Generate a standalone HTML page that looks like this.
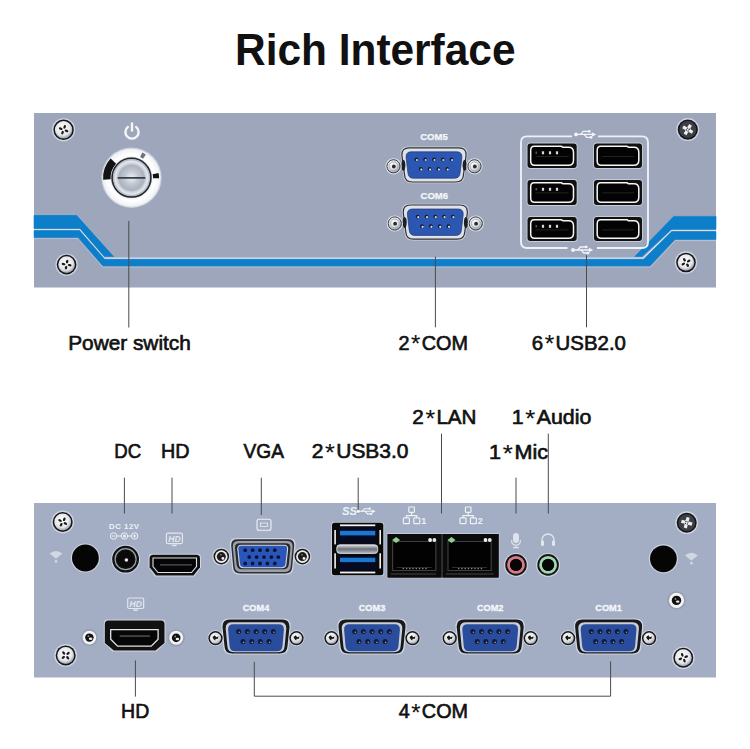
<!DOCTYPE html><html><head><meta charset="utf-8"><title>Rich Interface</title>
<style>html,body{margin:0;padding:0;background:#fff;}body{width:750px;height:749px;overflow:hidden;}svg{display:block;}</style></head><body>
<svg width="750" height="749" viewBox="0 0 750 749">
<defs>
<radialGradient id="gScrewL" cx="0.45" cy="0.4" r="0.6"><stop offset="0" stop-color="#ffffff"/><stop offset="0.7" stop-color="#e4e6ea"/><stop offset="1" stop-color="#9a9ea6"/></radialGradient>
<radialGradient id="gScrewD" cx="0.45" cy="0.4" r="0.6"><stop offset="0" stop-color="#e8e8e8"/><stop offset="0.6" stop-color="#8a8c90"/><stop offset="1" stop-color="#303236"/></radialGradient>
<radialGradient id="gThumb" cx="0.4" cy="0.35" r="0.7"><stop offset="0" stop-color="#ffffff"/><stop offset="0.6" stop-color="#d8dbe0"/><stop offset="1" stop-color="#8d9099"/></radialGradient>
<radialGradient id="gBtn" cx="0.5" cy="0.5" r="0.5"><stop offset="0" stop-color="#c9ced8"/><stop offset="0.7" stop-color="#b8bfcb"/><stop offset="0.9" stop-color="#e6e9ee"/><stop offset="1" stop-color="#a7aebb"/></radialGradient>
<radialGradient id="gRing" cx="0.5" cy="0.5" r="0.5"><stop offset="0.6" stop-color="#e9ecf1"/><stop offset="0.8" stop-color="#ffffff"/><stop offset="1" stop-color="#eef0f4"/></radialGradient>
<radialGradient id="gBtn2" cx="0.5" cy="0.5" r="0.5"><stop offset="0" stop-color="#eef0f4"/><stop offset="0.5" stop-color="#c3c9d3"/><stop offset="1" stop-color="#aab1bd"/></radialGradient>
<linearGradient id="gMid" x1="0" y1="0" x2="0" y2="1"><stop offset="0" stop-color="#dcdee4"/><stop offset="0.5" stop-color="#6c707a"/><stop offset="1" stop-color="#b4b8c2"/></linearGradient>
</defs>
<text x="235" y="64.8" font-family='"Liberation Sans", sans-serif' font-weight="bold" font-size="44.8" fill="#111" textLength="280.5" lengthAdjust="spacingAndGlyphs">Rich Interface</text>
<rect x="34" y="113" width="682" height="174.5" fill="#9da6bb"/>
<polyline points="34,238.6 78.4,238.6 102.6,267 650.6,267 675.3,240.6 716,240.6" fill="none" stroke="#c4cfe0" stroke-width="1" opacity="0.7"/>
<polyline points="34,214.3 76.3,214.3 113.5,255.7" fill="none" stroke="#c4cfe0" stroke-width="1" opacity="0.5"/>
<polygon points="34,215.2 76.6,215.2 113.8,256.6 104.2,256.6 79.8,228.6 34,228.6" fill="#0d7fca" stroke="#0d7fca" stroke-width="0.6" stroke-linejoin="round"/>
<polygon points="716,216.4 673.7,216.4 634.8,256.5 642,256.5 671.7,229.2 716,229.2" fill="#0d7fca" stroke="#0d7fca" stroke-width="0.6" stroke-linejoin="round"/>
<polyline points="34,229.6 79.7,229.6 104.4,258.3 643.3,258.3 671.6,230.6 716,230.6" fill="none" stroke="#d6e0ef" stroke-width="1.4"/>
<polygon points="34,230.5 79.5,230.5 104.7,259.3 643.6,259.3 671.7,231.6 716,231.6 716,239.4 674.9,239.4 650,266 102.9,266 78.1,237.6 34,237.6" fill="#0d7fca" stroke="#0d7fca" stroke-width="0.5" stroke-linejoin="round"/>
<circle cx="63.6" cy="129.8" r="11.6" fill="#d3dae7" opacity="0.85"/><circle cx="63.6" cy="129.8" r="10.2" fill="#161616"/><circle cx="63.6" cy="129.8" r="8.7" fill="url(#gScrewL)"/><g transform="translate(63.6,129.8) rotate(20)" fill="#1a1a1a"><ellipse cx="3.1" cy="0" rx="1.9" ry="1.2" transform="rotate(0)"/><ellipse cx="3.1" cy="0" rx="1.9" ry="1.2" transform="rotate(90)"/><ellipse cx="3.1" cy="0" rx="1.9" ry="1.2" transform="rotate(180)"/><ellipse cx="3.1" cy="0" rx="1.9" ry="1.2" transform="rotate(270)"/></g>
<circle cx="687.8" cy="129.6" r="11.5" fill="#d3dae7" opacity="0.85"/><circle cx="687.8" cy="129.6" r="10.1" fill="#161616"/><circle cx="687.8" cy="129.6" r="8.5" fill="#3c3f45"/><g transform="translate(687.8,129.6) rotate(30)" fill="#eceef2"><path d="M-5.5,-1.6 L-1.6,-1.6 L-1.6,-5.5 L1.6,-5.5 L1.6,-1.6 L5.5,-1.6 L5.5,1.6 L1.6,1.6 L1.6,5.5 L-1.6,5.5 L-1.6,1.6 L-5.5,1.6 Z"/><circle cx="0" cy="0" r="2.6"/></g><g transform="translate(687.8,129.6) rotate(30)" fill="#2a2c30"><circle cx="1.5" cy="0" r="0.7" transform="rotate(45)"/><circle cx="1.5" cy="0" r="0.7" transform="rotate(135)"/><circle cx="1.5" cy="0" r="0.7" transform="rotate(225)"/><circle cx="1.5" cy="0" r="0.7" transform="rotate(315)"/></g>
<circle cx="66.6" cy="264.6" r="11.200000000000001" fill="#d3dae7" opacity="0.85"/><circle cx="66.6" cy="264.6" r="9.8" fill="#161616"/><circle cx="66.6" cy="264.6" r="8.3" fill="url(#gScrewL)"/><g transform="translate(66.6,264.6) rotate(10)" fill="#1a1a1a"><ellipse cx="3.1" cy="0" rx="1.9" ry="1.2" transform="rotate(0)"/><ellipse cx="3.1" cy="0" rx="1.9" ry="1.2" transform="rotate(90)"/><ellipse cx="3.1" cy="0" rx="1.9" ry="1.2" transform="rotate(180)"/><ellipse cx="3.1" cy="0" rx="1.9" ry="1.2" transform="rotate(270)"/></g>
<circle cx="686" cy="262.5" r="11.200000000000001" fill="#d3dae7" opacity="0.85"/><circle cx="686" cy="262.5" r="9.8" fill="#161616"/><circle cx="686" cy="262.5" r="8.3" fill="url(#gScrewL)"/><g transform="translate(686,262.5) rotate(60)" fill="#1a1a1a"><ellipse cx="3.1" cy="0" rx="1.9" ry="1.2" transform="rotate(0)"/><ellipse cx="3.1" cy="0" rx="1.9" ry="1.2" transform="rotate(90)"/><ellipse cx="3.1" cy="0" rx="1.9" ry="1.2" transform="rotate(180)"/><ellipse cx="3.1" cy="0" rx="1.9" ry="1.2" transform="rotate(270)"/></g>
<g fill="none" stroke="#f4f6fa" stroke-width="2.4" stroke-linecap="round"><path d="M127.9,126.9 A6.6,6.6 0 1 0 136.1,126.9"/><line x1="132" y1="123.4" x2="132" y2="130.6"/></g>
<circle cx="131.5" cy="177.7" r="30.2" fill="#c9d0dc"/>
<circle cx="131.5" cy="177.7" r="29" fill="url(#gRing)"/>
<path d="M106.9,179.5 A24.6,24.6 0 0 1 113.4,161.1" fill="none" stroke="#121212" stroke-width="7.5"/>
<path d="M155.6,173.6 A24.6,24.6 0 0 1 156.1,178.2" fill="none" stroke="#121212" stroke-width="6"/>
<path d="M141.2,154.8 A24.6,24.6 0 0 1 144.4,156.7" fill="none" stroke="#6a7080" stroke-width="5"/>
<circle cx="131.5" cy="177.7" r="20.6" fill="#c3c9d4"/>
<circle cx="131.5" cy="177.7" r="19.4" fill="none" stroke="#23252b" stroke-width="1.5"/>
<circle cx="131.5" cy="177.7" r="18.2" fill="url(#gBtn)"/>
<circle cx="131.5" cy="177.7" r="13" fill="url(#gBtn2)"/>
<rect x="117.5" y="176.9" width="28" height="1.9" rx="0.9" fill="#3a3e46"/>
<text x="434" y="140.2" text-anchor="middle" font-family='"Liberation Sans", sans-serif' font-weight="bold" font-size="8.6" fill="#f4f6fa" stroke="#f4f6fa" stroke-width="0.25" textLength="27.6" lengthAdjust="spacingAndGlyphs">COM5</text>
<g transform="translate(434,164.8)"><path d="M-25.799999999999997,-18.2 L25.799999999999997,-18.2 Q33.8,-18.2 33.5,-10.2 L30.7,10.399999999999999 Q30.4,18.4 22.4,18.4 L-22.4,18.4 Q-30.4,18.4 -30.7,10.399999999999999 L-33.5,-10.2 Q-33.8,-18.2 -25.799999999999997,-18.2 Z" fill="#cfd5df"/><path d="M-24.9,-17 L24.9,-17 Q32.4,-17 32.1,-9.5 L29.5,9.7 Q29.2,17.2 21.7,17.2 L-21.7,17.2 Q-29.2,17.2 -29.5,9.7 L-32.1,-9.5 Q-32.4,-17 -24.9,-17 Z" fill="#dfe2e8" stroke="#2e3034" stroke-width="1.2"/><ellipse cx="-30.6" cy="0.5" rx="2" ry="5.5" fill="#1e1f22"/><ellipse cx="30.6" cy="0.5" rx="2" ry="5.5" fill="#1e1f22"/><path d="M-22.7,-13 L22.7,-13 Q28.2,-13 27.9,-7.5 L26.1,7.9 Q25.8,13.4 20.3,13.4 L-20.3,13.4 Q-25.8,13.4 -26.1,7.9 L-27.9,-7.5 Q-28.2,-13 -22.7,-13 Z" fill="#2b57b2" stroke="#22356e" stroke-width="0.7"/><circle cx="-17.6" cy="-5.4" r="1.9" fill="#0f1a40"/><circle cx="-17.1" cy="-4.800000000000001" r="1.1" fill="#d9d2bd"/><circle cx="-8.8" cy="-5.4" r="1.9" fill="#0f1a40"/><circle cx="-8.3" cy="-4.800000000000001" r="1.1" fill="#d9d2bd"/><circle cx="0.0" cy="-5.4" r="1.9" fill="#0f1a40"/><circle cx="0.5" cy="-4.800000000000001" r="1.1" fill="#d9d2bd"/><circle cx="8.8" cy="-5.4" r="1.9" fill="#0f1a40"/><circle cx="9.3" cy="-4.800000000000001" r="1.1" fill="#d9d2bd"/><circle cx="17.6" cy="-5.4" r="1.9" fill="#0f1a40"/><circle cx="18.1" cy="-4.800000000000001" r="1.1" fill="#d9d2bd"/><circle cx="-13.200000000000001" cy="4.2" r="1.9" fill="#0f1a40"/><circle cx="-12.700000000000001" cy="4.8" r="1.1" fill="#e6e0cc"/><circle cx="-4.4" cy="4.2" r="1.9" fill="#0f1a40"/><circle cx="-3.9000000000000004" cy="4.8" r="1.1" fill="#e6e0cc"/><circle cx="4.4" cy="4.2" r="1.9" fill="#0f1a40"/><circle cx="4.9" cy="4.8" r="1.1" fill="#e6e0cc"/><circle cx="13.200000000000001" cy="4.2" r="1.9" fill="#0f1a40"/><circle cx="13.700000000000001" cy="4.8" r="1.1" fill="#e6e0cc"/></g><circle cx="393.5" cy="166.3" r="8.1" fill="#dde2ea"/><circle cx="393.5" cy="166.3" r="6.6" fill="url(#gThumb)" stroke="#3a3c42" stroke-width="1"/><circle cx="393.5" cy="166.3" r="4.3999999999999995" fill="none" stroke="#9aa0aa" stroke-width="0.8"/><circle cx="393.8" cy="166.5" r="1.9" fill="#2a2a2a"/><circle cx="474.5" cy="166.3" r="8.1" fill="#dde2ea"/><circle cx="474.5" cy="166.3" r="6.6" fill="url(#gThumb)" stroke="#3a3c42" stroke-width="1"/><circle cx="474.5" cy="166.3" r="4.3999999999999995" fill="none" stroke="#9aa0aa" stroke-width="0.8"/><circle cx="474.8" cy="166.5" r="1.9" fill="#2a2a2a"/>
<text x="434.3" y="198.8" text-anchor="middle" font-family='"Liberation Sans", sans-serif' font-weight="bold" font-size="8.6" fill="#f4f6fa" stroke="#f4f6fa" stroke-width="0.25" textLength="27.6" lengthAdjust="spacingAndGlyphs">COM6</text>
<g transform="translate(435.3,222)"><path d="M-25.799999999999997,-18.2 L25.799999999999997,-18.2 Q33.8,-18.2 33.5,-10.2 L30.7,10.399999999999999 Q30.4,18.4 22.4,18.4 L-22.4,18.4 Q-30.4,18.4 -30.7,10.399999999999999 L-33.5,-10.2 Q-33.8,-18.2 -25.799999999999997,-18.2 Z" fill="#cfd5df"/><path d="M-24.9,-17 L24.9,-17 Q32.4,-17 32.1,-9.5 L29.5,9.7 Q29.2,17.2 21.7,17.2 L-21.7,17.2 Q-29.2,17.2 -29.5,9.7 L-32.1,-9.5 Q-32.4,-17 -24.9,-17 Z" fill="#dfe2e8" stroke="#2e3034" stroke-width="1.2"/><ellipse cx="-30.6" cy="0.5" rx="2" ry="5.5" fill="#1e1f22"/><ellipse cx="30.6" cy="0.5" rx="2" ry="5.5" fill="#1e1f22"/><path d="M-22.7,-13 L22.7,-13 Q28.2,-13 27.9,-7.5 L26.1,7.9 Q25.8,13.4 20.3,13.4 L-20.3,13.4 Q-25.8,13.4 -26.1,7.9 L-27.9,-7.5 Q-28.2,-13 -22.7,-13 Z" fill="#2b57b2" stroke="#22356e" stroke-width="0.7"/><circle cx="-17.6" cy="-5.4" r="1.9" fill="#0f1a40"/><circle cx="-17.1" cy="-4.800000000000001" r="1.1" fill="#d9d2bd"/><circle cx="-8.8" cy="-5.4" r="1.9" fill="#0f1a40"/><circle cx="-8.3" cy="-4.800000000000001" r="1.1" fill="#d9d2bd"/><circle cx="0.0" cy="-5.4" r="1.9" fill="#0f1a40"/><circle cx="0.5" cy="-4.800000000000001" r="1.1" fill="#d9d2bd"/><circle cx="8.8" cy="-5.4" r="1.9" fill="#0f1a40"/><circle cx="9.3" cy="-4.800000000000001" r="1.1" fill="#d9d2bd"/><circle cx="17.6" cy="-5.4" r="1.9" fill="#0f1a40"/><circle cx="18.1" cy="-4.800000000000001" r="1.1" fill="#d9d2bd"/><circle cx="-13.200000000000001" cy="4.2" r="1.9" fill="#0f1a40"/><circle cx="-12.700000000000001" cy="4.8" r="1.1" fill="#e6e0cc"/><circle cx="-4.4" cy="4.2" r="1.9" fill="#0f1a40"/><circle cx="-3.9000000000000004" cy="4.8" r="1.1" fill="#e6e0cc"/><circle cx="4.4" cy="4.2" r="1.9" fill="#0f1a40"/><circle cx="4.9" cy="4.8" r="1.1" fill="#e6e0cc"/><circle cx="13.200000000000001" cy="4.2" r="1.9" fill="#0f1a40"/><circle cx="13.700000000000001" cy="4.8" r="1.1" fill="#e6e0cc"/></g><circle cx="394.8" cy="223.5" r="8.1" fill="#dde2ea"/><circle cx="394.8" cy="223.5" r="6.6" fill="url(#gThumb)" stroke="#3a3c42" stroke-width="1"/><circle cx="394.8" cy="223.5" r="4.3999999999999995" fill="none" stroke="#9aa0aa" stroke-width="0.8"/><circle cx="395.1" cy="223.7" r="1.9" fill="#2a2a2a"/><circle cx="475.8" cy="223.5" r="8.1" fill="#dde2ea"/><circle cx="475.8" cy="223.5" r="6.6" fill="url(#gThumb)" stroke="#3a3c42" stroke-width="1"/><circle cx="475.8" cy="223.5" r="4.3999999999999995" fill="none" stroke="#9aa0aa" stroke-width="0.8"/><circle cx="476.1" cy="223.7" r="1.9" fill="#2a2a2a"/>
<path d="M572,136.4 H527 Q521,136.4 521,142.4 V242 Q521,248 527,248 H567.5 M597,248 H642 Q648,248 648,242 V142.4 Q648,136.4 642,136.4 H598" fill="none" stroke="#eef1f6" stroke-width="1.9"/>
<g transform="translate(585,134.4) scale(0.86)" stroke="#f2f4f8" fill="#f2f4f8" stroke-width="1.5" stroke-linecap="round"><circle cx="-10.5" cy="0" r="2.2" stroke="none"/><line x1="-10" y1="0" x2="9" y2="0"/><path d="M13,0 L8,-2.6 L8,2.6 Z" stroke="none"/><polyline points="-5,0 -2,-3.5 4,-3.5" fill="none"/><rect x="3.6" y="-5" width="2.8" height="2.8" stroke="none"/><polyline points="-1,0 2,3.5 6,3.5" fill="none"/><circle cx="7" cy="3.5" r="1.6" stroke="none"/></g>
<g transform="translate(582,250) scale(0.86)" stroke="#f2f4f8" fill="#f2f4f8" stroke-width="1.5" stroke-linecap="round"><circle cx="-10.5" cy="0" r="2.2" stroke="none"/><line x1="-10" y1="0" x2="9" y2="0"/><path d="M13,0 L8,-2.6 L8,2.6 Z" stroke="none"/><polyline points="-5,0 -2,-3.5 4,-3.5" fill="none"/><rect x="3.6" y="-5" width="2.8" height="2.8" stroke="none"/><polyline points="-1,0 2,3.5 6,3.5" fill="none"/><circle cx="7" cy="3.5" r="1.6" stroke="none"/></g>
<rect x="526.6" y="142.6" width="51.0" height="26.3" rx="4" fill="#c6cdd8"/><rect x="527.5" y="143.5" width="49.2" height="24.5" rx="3" fill="#111"/><path d="M534.2,146.3 H561.5160000000001 Q563.0160000000001,147.5 564.5160000000001,147.3 H568.5 Q573.5,147.3 573.5,152.3 V160.20000000000002 Q573.5,165.20000000000002 568.5,165.20000000000002 H534.7 Q530.7,165.20000000000002 530.7,161.20000000000002 V150.3 Q530.7,146.3 534.2,146.3 Z" fill="#030303" stroke="#f6f6f6" stroke-width="1.5"/><rect x="535.5" y="151.5" width="1.6" height="2.4" fill="#555"/><rect x="541.9" y="151.3" width="2.2" height="3" fill="#d8d8d8"/><rect x="548.9" y="151.3" width="2.2" height="3" fill="#d8d8d8"/><rect x="555.9" y="151.3" width="2.2" height="3" fill="#d8d8d8"/><rect x="535.5" y="156.0" width="33.2" height="0.8" fill="#2a2a2a"/>
<rect x="593.1" y="142.6" width="49.8" height="26.3" rx="4" fill="#c6cdd8"/><rect x="594" y="143.5" width="48" height="24.5" rx="3" fill="#111"/><path d="M600.7,146.3 H627.152 Q628.652,147.5 630.152,147.3 H633.8000000000001 Q638.8000000000001,147.3 638.8000000000001,152.3 V160.20000000000002 Q638.8000000000001,165.20000000000002 633.8000000000001,165.20000000000002 H601.2 Q597.2,165.20000000000002 597.2,161.20000000000002 V150.3 Q597.2,146.3 600.7,146.3 Z" fill="#030303" stroke="#f6f6f6" stroke-width="1.5"/><rect x="602" y="156.0" width="32" height="0.8" fill="#2a2a2a"/>
<rect x="526.6" y="179.1" width="51.0" height="26.8" rx="4" fill="#c6cdd8"/><rect x="527.5" y="180" width="49.2" height="25" rx="3" fill="#111"/><path d="M534.2,182.8 H561.5160000000001 Q563.0160000000001,184.0 564.5160000000001,183.8 H568.5 Q573.5,183.8 573.5,188.8 V197.20000000000002 Q573.5,202.20000000000002 568.5,202.20000000000002 H534.7 Q530.7,202.20000000000002 530.7,198.20000000000002 V186.8 Q530.7,182.8 534.2,182.8 Z" fill="#030303" stroke="#f6f6f6" stroke-width="1.5"/><rect x="535.5" y="188" width="1.6" height="2.4" fill="#555"/><rect x="541.9" y="187.8" width="2.2" height="3" fill="#d8d8d8"/><rect x="548.9" y="187.8" width="2.2" height="3" fill="#d8d8d8"/><rect x="555.9" y="187.8" width="2.2" height="3" fill="#d8d8d8"/><rect x="535.5" y="192.5" width="33.2" height="0.8" fill="#2a2a2a"/>
<rect x="593.1" y="179.1" width="49.8" height="26.8" rx="4" fill="#c6cdd8"/><rect x="594" y="180" width="48" height="25" rx="3" fill="#111"/><path d="M600.7,182.8 H627.152 Q628.652,184.0 630.152,183.8 H633.8000000000001 Q638.8000000000001,183.8 638.8000000000001,188.8 V197.20000000000002 Q638.8000000000001,202.20000000000002 633.8000000000001,202.20000000000002 H601.2 Q597.2,202.20000000000002 597.2,198.20000000000002 V186.8 Q597.2,182.8 600.7,182.8 Z" fill="#030303" stroke="#f6f6f6" stroke-width="1.5"/><rect x="602" y="192.5" width="32" height="0.8" fill="#2a2a2a"/>
<rect x="526.6" y="216.1" width="51.0" height="25.8" rx="4" fill="#c6cdd8"/><rect x="527.5" y="217" width="49.2" height="24" rx="3" fill="#111"/><path d="M534.2,219.8 H561.5160000000001 Q563.0160000000001,221.0 564.5160000000001,220.8 H568.5 Q573.5,220.8 573.5,225.8 V233.20000000000002 Q573.5,238.20000000000002 568.5,238.20000000000002 H534.7 Q530.7,238.20000000000002 530.7,234.20000000000002 V223.8 Q530.7,219.8 534.2,219.8 Z" fill="#030303" stroke="#f6f6f6" stroke-width="1.5"/><rect x="535.5" y="225" width="1.6" height="2.4" fill="#555"/><rect x="541.9" y="224.8" width="2.2" height="3" fill="#d8d8d8"/><rect x="548.9" y="224.8" width="2.2" height="3" fill="#d8d8d8"/><rect x="555.9" y="224.8" width="2.2" height="3" fill="#d8d8d8"/><rect x="535.5" y="229.5" width="33.2" height="0.8" fill="#2a2a2a"/>
<rect x="593.1" y="216.1" width="49.8" height="25.8" rx="4" fill="#c6cdd8"/><rect x="594" y="217" width="48" height="24" rx="3" fill="#111"/><path d="M600.7,219.8 H627.152 Q628.652,221.0 630.152,220.8 H633.8000000000001 Q638.8000000000001,220.8 638.8000000000001,225.8 V233.20000000000002 Q638.8000000000001,238.20000000000002 633.8000000000001,238.20000000000002 H601.2 Q597.2,238.20000000000002 597.2,234.20000000000002 V223.8 Q597.2,219.8 600.7,219.8 Z" fill="#030303" stroke="#f6f6f6" stroke-width="1.5"/><rect x="602" y="229.5" width="32" height="0.8" fill="#2a2a2a"/>
<line x1="128.8" y1="221" x2="128.8" y2="327.5" stroke="#4a4a4a" stroke-width="1"/>
<line x1="435.4" y1="256.7" x2="435.4" y2="327.3" stroke="#4a4a4a" stroke-width="1"/>
<line x1="586.5" y1="255.3" x2="586.5" y2="327.3" stroke="#4a4a4a" stroke-width="1"/>
<text x="68.2" y="349.9" font-family='"Liberation Sans", sans-serif' font-size="20.2" fill="#111" stroke="#111" stroke-width="0.65" textLength="122.6" lengthAdjust="spacingAndGlyphs">Power switch</text>
<text x="398.5" y="349.6" font-family='"Liberation Sans", sans-serif' font-size="20.2" fill="#111" stroke="#111" stroke-width="0.65" textLength="69.39999999999999" lengthAdjust="spacingAndGlyphs">2<tspan dx="1.6" dy="2.7" font-size="24.2" stroke-width="0.15">*</tspan><tspan dx="1.4" dy="-2.7">COM</tspan></text>
<text x="531.7" y="349.6" font-family='"Liberation Sans", sans-serif' font-size="20.2" fill="#111" stroke="#111" stroke-width="0.65" textLength="94.19999999999999" lengthAdjust="spacingAndGlyphs">6<tspan dx="1.6" dy="2.7" font-size="24.2" stroke-width="0.15">*</tspan><tspan dx="1.4" dy="-2.7">USB2.0</tspan></text>
<rect x="34" y="503" width="682" height="174.5" fill="#a3aec4"/>
<text x="114.3" y="458" font-family='"Liberation Sans", sans-serif' font-size="20.2" fill="#111" stroke="#111" stroke-width="0.65" textLength="26.900000000000002" lengthAdjust="spacingAndGlyphs">DC</text>
<text x="161.0" y="458" font-family='"Liberation Sans", sans-serif' font-size="20.2" fill="#111" stroke="#111" stroke-width="0.65" textLength="28.6" lengthAdjust="spacingAndGlyphs">HD</text>
<text x="243.5" y="458" font-family='"Liberation Sans", sans-serif' font-size="20.2" fill="#111" stroke="#111" stroke-width="0.65" textLength="40.4" lengthAdjust="spacingAndGlyphs">VGA</text>
<text x="311.7" y="458" font-family='"Liberation Sans", sans-serif' font-size="20.2" fill="#111" stroke="#111" stroke-width="0.65" textLength="96.8" lengthAdjust="spacingAndGlyphs">2<tspan dx="1.6" dy="2.7" font-size="24.2" stroke-width="0.15">*</tspan><tspan dx="1.4" dy="-2.7">USB3.0</tspan></text>
<text x="412.3" y="423.8" font-family='"Liberation Sans", sans-serif' font-size="20.2" fill="#111" stroke="#111" stroke-width="0.65" textLength="64.2" lengthAdjust="spacingAndGlyphs">2<tspan dx="1.6" dy="2.7" font-size="24.2" stroke-width="0.15">*</tspan><tspan dx="1.4" dy="-2.7">LAN</tspan></text>
<text x="511.7" y="423.8" font-family='"Liberation Sans", sans-serif' font-size="20.2" fill="#111" stroke="#111" stroke-width="0.65" textLength="79.6" lengthAdjust="spacingAndGlyphs">1<tspan dx="1.6" dy="2.7" font-size="24.2" stroke-width="0.15">*</tspan><tspan dx="1.4" dy="-2.7">Audio</tspan></text>
<text x="489.09999999999997" y="459" font-family='"Liberation Sans", sans-serif' font-size="20.2" fill="#111" stroke="#111" stroke-width="0.65" textLength="58.9" lengthAdjust="spacingAndGlyphs">1<tspan dx="1.6" dy="2.7" font-size="24.2" stroke-width="0.15">*</tspan><tspan dx="1.4" dy="-2.7">Mic</tspan></text>
<line x1="124.4" y1="477.7" x2="124.4" y2="513.5" stroke="#4a4a4a" stroke-width="1"/>
<line x1="172" y1="477.7" x2="172" y2="513.5" stroke="#4a4a4a" stroke-width="1"/>
<line x1="358.2" y1="477.7" x2="358.2" y2="513.5" stroke="#4a4a4a" stroke-width="1"/>
<line x1="516" y1="477.7" x2="516" y2="513.5" stroke="#4a4a4a" stroke-width="1"/>
<line x1="261.3" y1="477.7" x2="261.3" y2="515" stroke="#4a4a4a" stroke-width="1"/>
<line x1="441.5" y1="433.7" x2="441.5" y2="513.5" stroke="#4a4a4a" stroke-width="1"/>
<line x1="548.3" y1="433.7" x2="548.3" y2="513.5" stroke="#4a4a4a" stroke-width="1"/>
<circle cx="62.7" cy="522" r="11.4" fill="#d3dae7" opacity="0.85"/><circle cx="62.7" cy="522" r="10" fill="#161616"/><circle cx="62.7" cy="522" r="8.5" fill="url(#gScrewL)"/><g transform="translate(62.7,522) rotate(30)" fill="#1a1a1a"><ellipse cx="3.1" cy="0" rx="1.9" ry="1.2" transform="rotate(0)"/><ellipse cx="3.1" cy="0" rx="1.9" ry="1.2" transform="rotate(90)"/><ellipse cx="3.1" cy="0" rx="1.9" ry="1.2" transform="rotate(180)"/><ellipse cx="3.1" cy="0" rx="1.9" ry="1.2" transform="rotate(270)"/></g>
<circle cx="65.7" cy="655.4" r="11.4" fill="#d3dae7" opacity="0.85"/><circle cx="65.7" cy="655.4" r="10" fill="#161616"/><circle cx="65.7" cy="655.4" r="8.5" fill="url(#gScrewL)"/><g transform="translate(65.7,655.4) rotate(50)" fill="#1a1a1a"><ellipse cx="3.1" cy="0" rx="1.9" ry="1.2" transform="rotate(0)"/><ellipse cx="3.1" cy="0" rx="1.9" ry="1.2" transform="rotate(90)"/><ellipse cx="3.1" cy="0" rx="1.9" ry="1.2" transform="rotate(180)"/><ellipse cx="3.1" cy="0" rx="1.9" ry="1.2" transform="rotate(270)"/></g>
<circle cx="686.7" cy="522.7" r="11.4" fill="#d3dae7" opacity="0.85"/><circle cx="686.7" cy="522.7" r="10" fill="#161616"/><circle cx="686.7" cy="522.7" r="8.4" fill="#3c3f45"/><g transform="translate(686.7,522.7) rotate(15)" fill="#eceef2"><path d="M-5.5,-1.6 L-1.6,-1.6 L-1.6,-5.5 L1.6,-5.5 L1.6,-1.6 L5.5,-1.6 L5.5,1.6 L1.6,1.6 L1.6,5.5 L-1.6,5.5 L-1.6,1.6 L-5.5,1.6 Z"/><circle cx="0" cy="0" r="2.6"/></g><g transform="translate(686.7,522.7) rotate(15)" fill="#2a2c30"><circle cx="1.5" cy="0" r="0.7" transform="rotate(45)"/><circle cx="1.5" cy="0" r="0.7" transform="rotate(135)"/><circle cx="1.5" cy="0" r="0.7" transform="rotate(225)"/><circle cx="1.5" cy="0" r="0.7" transform="rotate(315)"/></g>
<circle cx="683.3" cy="657.8" r="11.4" fill="#d3dae7" opacity="0.85"/><circle cx="683.3" cy="657.8" r="10" fill="#161616"/><circle cx="683.3" cy="657.8" r="8.5" fill="url(#gScrewL)"/><g transform="translate(683.3,657.8) rotate(70)" fill="#1a1a1a"><ellipse cx="3.1" cy="0" rx="1.9" ry="1.2" transform="rotate(0)"/><ellipse cx="3.1" cy="0" rx="1.9" ry="1.2" transform="rotate(90)"/><ellipse cx="3.1" cy="0" rx="1.9" ry="1.2" transform="rotate(180)"/><ellipse cx="3.1" cy="0" rx="1.9" ry="1.2" transform="rotate(270)"/></g>
<circle cx="85.4" cy="558" r="14.6" fill="#cdd4e0"/><circle cx="85.4" cy="558" r="13.4" fill="#050505"/>
<circle cx="663.4" cy="558.8" r="14.6" fill="#cdd4e0"/><circle cx="663.4" cy="558.8" r="13.4" fill="#050505"/>
<g fill="#eef2f8" opacity="0.6"><path d="M49.5,553.6 Q56,548.2 62.5,553.6 L56,558.8000000000001 Z"/><circle cx="56" cy="561.4000000000001" r="1.4"/></g>
<g fill="#eef2f8" opacity="0.6"><path d="M684.9,555.4 Q691.4,550 697.9,555.4 L691.4,560.6 Z"/><circle cx="691.4" cy="563.2" r="1.4"/></g>
<text x="124" y="529.4" text-anchor="middle" font-family='"Liberation Sans", sans-serif' font-weight="bold" font-size="7.8" fill="#eef1f6" textLength="30" lengthAdjust="spacing">DC 12V</text>
<g fill="none" stroke="#eef1f6" stroke-width="1"><circle cx="113.6" cy="536" r="3.2"/><circle cx="124.4" cy="536" r="3.2"/><circle cx="134.6" cy="536" r="3.2"/><path d="M116.8,536 H121.2 M127.6,536 H131.4 M112,536 H115.2 M133,536 H136.2 M134.6,534.4 V537.6"/></g><circle cx="124.4" cy="536" r="1.5" fill="#eef1f6"/>
<circle cx="125.6" cy="559.2" r="14.4" fill="#cfd6e2"/><circle cx="125.6" cy="559.2" r="13.4" fill="#111"/><circle cx="125.6" cy="559.2" r="10.5" fill="none" stroke="#9aa0aa" stroke-width="1.2"/><circle cx="125.6" cy="559.2" r="8.5" fill="#0a0a0a"/><circle cx="126.4" cy="560" r="1.8" fill="#eaeaea"/>
<path d="M152.6,553.8 H197.0 Q201.0,553.8 201.0,557.8 V567.1999999999999 L194.6,576.5999999999999 H155.0 L148.6,567.1999999999999 V557.8 Q148.6,553.8 152.6,553.8 Z" fill="#d2d8e2"/><path d="M153.1,554.8 H196.5 Q200.0,554.8 200.0,558.3 V567.1999999999999 L193.6,575.5999999999999 H156.0 L149.6,567.1999999999999 V558.3 Q149.6,554.8 153.1,554.8 Z" fill="#111"/>
<path d="M153,558 H196.5 V566.5 L191.5,572.5 H158 L153,566.5 Z" fill="#050505" stroke="#dedfe2" stroke-width="1.1"/>
<rect x="160" y="564.3" width="32" height="1.2" fill="#55575c"/>
<g transform="translate(174.4,539.2) scale(1.0)" opacity="0.85"><rect x="-8" y="-6" width="16" height="10.5" rx="1.5" fill="none" stroke="#eef1f6" stroke-width="1.2"/><text x="0" y="2.8" text-anchor="middle" font-family='"Liberation Sans", sans-serif' font-weight="bold" font-style="italic" font-size="8.5" fill="#eef1f6">HD</text><path d="M-3,5.5 H3 L1.5,7 H-1.5 Z" fill="#eef1f6"/></g>
<g transform="translate(262.7,556.5)"><path d="M-26.200000000000003,-18.4 L26.200000000000003,-18.4 Q33.2,-18.4 32.900000000000006,-11.399999999999999 L30.7,11.2 Q30.4,18.2 23.4,18.2 L-23.4,18.2 Q-30.4,18.2 -30.7,11.2 L-32.900000000000006,-11.399999999999999 Q-33.2,-18.4 -26.200000000000003,-18.4 Z" fill="#cdd4df"/><path d="M-25.3,-17.2 L25.3,-17.2 Q31.8,-17.2 31.5,-10.7 L29.5,10.5 Q29.2,17 22.7,17 L-22.7,17 Q-29.2,17 -29.5,10.5 L-31.5,-10.7 Q-31.8,-17.2 -25.3,-17.2 Z" fill="#2c2e33"/><path d="M-24.2,-15.6 L24.2,-15.6 Q30.2,-15.6 29.9,-9.6 L28.1,9.4 Q27.8,15.4 21.8,15.4 L-21.8,15.4 Q-27.8,15.4 -28.1,9.4 L-29.9,-9.6 Q-30.2,-15.6 -24.2,-15.6 Z" fill="#9a9fa8"/><path d="M-23,-13.2 L23,-13.2 Q28,-13.2 27.7,-8.2 L26.1,7.800000000000001 Q25.8,12.8 20.8,12.8 L-20.8,12.8 Q-25.8,12.8 -26.1,7.800000000000001 L-27.7,-8.2 Q-28,-13.2 -23,-13.2 Z" fill="#26282d"/><path d="M-21.4,-11.2 L21.4,-11.2 Q25.2,-11.2 24.9,-7.3999999999999995 L23.3,7.3999999999999995 Q23,11.2 19.2,11.2 L-19.2,11.2 Q-23,11.2 -23.3,7.3999999999999995 L-24.9,-7.3999999999999995 Q-25.2,-11.2 -21.4,-11.2 Z" fill="#2a56b9" stroke="#d5d9e2" stroke-width="1.1"/><circle cx="-17.5" cy="-6.3" r="1.9" fill="#0b1436"/><circle cx="-10.1" cy="-6.3" r="1.9" fill="#0b1436"/><circle cx="-2.7" cy="-6.3" r="1.9" fill="#0b1436"/><circle cx="4.7" cy="-6.3" r="1.9" fill="#0b1436"/><circle cx="12.1" cy="-6.3" r="1.9" fill="#0b1436"/><circle cx="-13.5" cy="0.6" r="1.9" fill="#0b1436"/><circle cx="-6.1" cy="0.6" r="1.9" fill="#0b1436"/><circle cx="1.3" cy="0.6" r="1.9" fill="#0b1436"/><circle cx="8.7" cy="0.6" r="1.9" fill="#0b1436"/><circle cx="15.6" cy="0.6" r="1.9" fill="#0b1436"/><circle cx="-17.5" cy="7" r="1.9" fill="#0b1436"/><circle cx="-10.1" cy="7" r="1.9" fill="#0b1436"/><circle cx="-2.7" cy="7" r="1.9" fill="#0b1436"/><circle cx="4.7" cy="7" r="1.9" fill="#0b1436"/><circle cx="12.1" cy="7" r="1.9" fill="#0b1436"/></g><circle cx="221.3" cy="556.6" r="9.0" fill="#d2d8e2"/><circle cx="221.3" cy="556.6" r="7.8" fill="#1a1a1a"/><circle cx="221.3" cy="556.6" r="6.3" fill="#e9ebef"/><circle cx="221.3" cy="556.6" r="4.5" fill="#1c1c1c"/><circle cx="222.9" cy="558.4" r="1.4" fill="#f4f4f4"/><circle cx="220.9" cy="554.8000000000001" r="0.8" fill="#9a9a9a"/><circle cx="302.4" cy="556.6" r="9.0" fill="#d2d8e2"/><circle cx="302.4" cy="556.6" r="7.8" fill="#1a1a1a"/><circle cx="302.4" cy="556.6" r="6.3" fill="#e9ebef"/><circle cx="302.4" cy="556.6" r="4.5" fill="#1c1c1c"/><circle cx="304.0" cy="558.4" r="1.4" fill="#f4f4f4"/><circle cx="302.0" cy="554.8000000000001" r="0.8" fill="#9a9a9a"/>
<rect x="257" y="519.2" width="14" height="11" rx="2" fill="none" stroke="#eef1f6" stroke-width="1.1"/><rect x="260.5" y="523" width="7" height="3.5" fill="none" stroke="#eef1f6" stroke-width="0.8"/>
<rect x="331.2" y="522" width="53" height="54" rx="3" fill="#c9d0dc"/>
<rect x="332" y="522.8" width="51.3" height="52.5" rx="2.5" fill="#0a0a0a"/>
<g fill="#f2f2f2"><rect x="340" y="524.4" width="35.3" height="1.8"/><rect x="340" y="571.6" width="35.3" height="1.8"/><rect x="334.3" y="530" width="1.6" height="14.4"/><rect x="334.3" y="553.3" width="1.6" height="15.2"/><rect x="379.4" y="530" width="1.6" height="14.4"/><rect x="379.4" y="553.3" width="1.6" height="15.2"/></g>
<rect x="339" y="527" width="37" height="16" fill="#050a22"/><rect x="339" y="555.5" width="37" height="15" fill="#050a22"/>
<rect x="340" y="530.8" width="35.3" height="4.6" fill="#1a78d0"/><rect x="340" y="557.7" width="35.3" height="4.4" fill="#1a78d0"/>
<rect x="336.8" y="544.8" width="40.9" height="8.6" rx="3" fill="url(#gMid)" stroke="#f0f0f0" stroke-width="0.8"/>
<text x="342" y="515.2" font-family='"Liberation Sans", sans-serif' font-weight="bold" font-style="italic" font-size="10.5" fill="#eef1f6" textLength="15" lengthAdjust="spacingAndGlyphs">SS</text>
<g transform="translate(366,511.3) scale(0.74)" stroke="#f2f4f8" fill="#f2f4f8" stroke-width="1.5" stroke-linecap="round"><circle cx="-10.5" cy="0" r="2.2" stroke="none"/><line x1="-10" y1="0" x2="9" y2="0"/><path d="M13,0 L8,-2.6 L8,2.6 Z" stroke="none"/><polyline points="-5,0 -2,-3.5 4,-3.5" fill="none"/><rect x="3.6" y="-5" width="2.8" height="2.8" stroke="none"/><polyline points="-1,0 2,3.5 6,3.5" fill="none"/><circle cx="7" cy="3.5" r="1.6" stroke="none"/></g>
<rect x="386.8" y="533.2" width="112.6" height="45" fill="#c9d0dc"/><rect x="387.6" y="534" width="111" height="43.5" fill="#0b0b0b"/>
<rect x="387.6" y="534" width="53.5" height="43.5" fill="#0b0b0b"/><path d="M392.6,541.5 H435.8 V570.5 H392.6 Z" fill="#020202" stroke="#3d3d40" stroke-width="1.2"/><path d="M396.6,567.5 H431.6" stroke="#2e2e30" stroke-width="1"/><rect x="390.6" y="573.5" width="45.5" height="1" fill="#444"/><path d="M392.1,540 L396.1,537 L400.1,540 L396.1,543 Z" fill="#8fd08f"/><circle cx="430.1" cy="540" r="1.9" fill="#f2f2f2"/><circle cx="434.40000000000003" cy="540" r="1.9" fill="#e6e6e6"/><rect x="402.6" y="568" width="1.4" height="1.2" fill="#8a8a8a"/><rect x="405.85" y="568" width="1.4" height="1.2" fill="#8a8a8a"/><rect x="409.1" y="568" width="1.4" height="1.2" fill="#8a8a8a"/><rect x="412.35" y="568" width="1.4" height="1.2" fill="#8a8a8a"/><rect x="415.6" y="568" width="1.4" height="1.2" fill="#8a8a8a"/><rect x="418.85" y="568" width="1.4" height="1.2" fill="#8a8a8a"/><rect x="422.1" y="568" width="1.4" height="1.2" fill="#8a8a8a"/><rect x="425.35" y="568" width="1.4" height="1.2" fill="#8a8a8a"/>
<rect x="443" y="534" width="55.6" height="43.5" fill="#0b0b0b"/><path d="M448,541.5 H491.2 V570.5 H448 Z" fill="#020202" stroke="#3d3d40" stroke-width="1.2"/><path d="M452,567.5 H487" stroke="#2e2e30" stroke-width="1"/><rect x="446" y="573.5" width="47.6" height="1" fill="#444"/><path d="M447.5,540 L451.5,537 L455.5,540 L451.5,543 Z" fill="#8fd08f"/><circle cx="485.5" cy="540" r="1.9" fill="#f2f2f2"/><circle cx="489.8" cy="540" r="1.9" fill="#e6e6e6"/><rect x="458.0" y="568" width="1.4" height="1.2" fill="#8a8a8a"/><rect x="461.25" y="568" width="1.4" height="1.2" fill="#8a8a8a"/><rect x="464.5" y="568" width="1.4" height="1.2" fill="#8a8a8a"/><rect x="467.75" y="568" width="1.4" height="1.2" fill="#8a8a8a"/><rect x="471.0" y="568" width="1.4" height="1.2" fill="#8a8a8a"/><rect x="474.25" y="568" width="1.4" height="1.2" fill="#8a8a8a"/><rect x="477.5" y="568" width="1.4" height="1.2" fill="#8a8a8a"/><rect x="480.75" y="568" width="1.4" height="1.2" fill="#8a8a8a"/>
<rect x="441.6" y="534" width="0.9" height="43.5" fill="#55585e"/>
<g fill="none" stroke="#eef1f6" stroke-width="1.2"><rect x="408.8" y="507" width="5.6" height="5.4" rx="0.8"/><path d="M411.6,512.4 V515.6 M406.40000000000003,517.8 V515.6 H416.8 V517.8"/><rect x="403.40000000000003" y="517.8" width="6" height="5.8" rx="0.9"/><rect x="413.8" y="517.8" width="6" height="5.8" rx="0.9"/></g><text x="421.20000000000005" y="523.7" font-family='"Liberation Sans", sans-serif' font-weight="bold" font-size="9" fill="#eef1f6">1</text>
<g fill="none" stroke="#eef1f6" stroke-width="1.2"><rect x="465.4" y="507" width="5.6" height="5.4" rx="0.8"/><path d="M468.2,512.4 V515.6 M463.0,517.8 V515.6 H473.4 V517.8"/><rect x="460.0" y="517.8" width="6" height="5.8" rx="0.9"/><rect x="470.4" y="517.8" width="6" height="5.8" rx="0.9"/></g><text x="477.8" y="523.7" font-family='"Liberation Sans", sans-serif' font-weight="bold" font-size="9" fill="#eef1f6">2</text>
<circle cx="516" cy="564.9" r="12" fill="#ccd3df"/><circle cx="516" cy="564.9" r="10.8" fill="#151515"/><circle cx="516" cy="564.9" r="7.5" fill="none" stroke="#d97a8c" stroke-width="2.8"/><circle cx="516" cy="564.9" r="6" fill="#060606"/>
<circle cx="548.1" cy="564.9" r="12" fill="#ccd3df"/><circle cx="548.1" cy="564.9" r="10.8" fill="#151515"/><circle cx="548.1" cy="564.9" r="7.5" fill="none" stroke="#9fd8b2" stroke-width="2.8"/><circle cx="548.1" cy="564.9" r="6" fill="#060606"/>
<g fill="none" stroke="#eef1f6" stroke-width="1.1" opacity="0.8"><rect x="513.6" y="533.5" width="4.8" height="9" rx="2.4" fill="#eef1f6"/><path d="M511.5,540 Q511.5,545.2 516,545.2 Q520.5,545.2 520.5,540 M516,545.2 V547.5 M513,547.6 H519"/></g>
<g opacity="0.85"><g fill="none" stroke="#eef1f6" stroke-width="1.3"><path d="M542,543 V540 A6,6 0 0 1 554,540 V543"/></g><rect x="541" y="540.5" width="3" height="5.5" rx="1.2" fill="#eef1f6"/><rect x="552" y="540.5" width="3" height="5.5" rx="1.2" fill="#eef1f6"/></g>
<path d="M107.8,619.6 H161.5 Q165.5,619.6 165.5,623.6 V643.0 L156.5,651.5 H112.8 L103.8,643.0 V623.6 Q103.8,619.6 107.8,619.6 Z" fill="#d2d8e2"/><path d="M108.3,620.6 H161.0 Q164.5,620.6 164.5,624.1 V643.0 L155.5,650.5 H113.8 L104.8,643.0 V624.1 Q104.8,620.6 108.3,620.6 Z" fill="#111"/>
<path d="M110.7,629.7 H158.1 V639.3 L151.2,646.2 H117.6 L110.7,639.3 Z" fill="#060606" stroke="#e4e4e4" stroke-width="1.3"/>
<rect x="119.7" y="635.4" width="30.3" height="1.3" fill="#5a5c60"/>
<g transform="translate(135.7,604) scale(1.0)" opacity="0.85"><rect x="-8" y="-6" width="16" height="10.5" rx="1.5" fill="none" stroke="#eef1f6" stroke-width="1.2"/><text x="0" y="2.8" text-anchor="middle" font-family='"Liberation Sans", sans-serif' font-weight="bold" font-style="italic" font-size="8.5" fill="#eef1f6">HD</text><path d="M-3,5.5 H3 L1.5,7 H-1.5 Z" fill="#eef1f6"/></g>
<circle cx="89.4" cy="637.6" r="8.4" fill="#8e96a6" opacity="0.7"/><circle cx="89.4" cy="637.6" r="6.8" fill="#f2f3f6"/><circle cx="89.4" cy="637.6" r="4.216" fill="#111"/><ellipse cx="90.60000000000001" cy="638.8000000000001" rx="1.8" ry="1.2" fill="#eee"/><circle cx="88.4" cy="636.2" r="0.9" fill="#888"/>
<circle cx="176.2" cy="637.8" r="8.6" fill="#8e96a6" opacity="0.7"/><circle cx="176.2" cy="637.8" r="7" fill="#f2f3f6"/><circle cx="176.2" cy="637.8" r="4.34" fill="#111"/><ellipse cx="177.39999999999998" cy="639.0" rx="1.8" ry="1.2" fill="#eee"/><circle cx="175.2" cy="636.4" r="0.9" fill="#888"/>
<circle cx="676.5" cy="600.4" r="9.2" fill="#8e96a6" opacity="0.7"/><circle cx="676.5" cy="600.4" r="7.6" fill="#f2f3f6"/><circle cx="676.5" cy="600.4" r="4.712" fill="#111"/><ellipse cx="677.7" cy="601.6" rx="1.8" ry="1.2" fill="#eee"/><circle cx="675.5" cy="599.0" r="0.9" fill="#888"/>
<text x="256" y="611.4" text-anchor="middle" font-family='"Liberation Sans", sans-serif' font-weight="bold" font-size="8.6" fill="#f4f6fa" stroke="#f4f6fa" stroke-width="0.3" textLength="26.6" lengthAdjust="spacingAndGlyphs">COM4</text>
<g transform="translate(256,636.4)"><path d="M-27,-17.8 L27,-17.8 Q35,-17.8 34.7,-9.8 L32.8,10.2 Q32.5,18.2 24.5,18.2 L-24.5,18.2 Q-32.5,18.2 -32.8,10.2 L-34.7,-9.8 Q-35,-17.8 -27,-17.8 Z" fill="#cfd6e1"/><path d="M-26.299999999999997,-16.8 L26.299999999999997,-16.8 Q33.8,-16.8 33.5,-9.3 L31.5,9.7 Q31.2,17.2 23.7,17.2 L-23.7,17.2 Q-31.2,17.2 -31.5,9.7 L-33.5,-9.3 Q-33.8,-16.8 -26.299999999999997,-16.8 Z" fill="#18191c"/><path d="M-24.1,-14.2 L24.1,-14.2 Q30.6,-14.2 30.3,-7.699999999999999 L28.7,9.3 Q28.4,15.8 21.9,15.8 L-21.9,15.8 Q-28.4,15.8 -28.7,9.3 L-30.3,-7.699999999999999 Q-30.6,-14.2 -24.1,-14.2 Z" fill="#c9ced7"/><path d="M-22.7,-12.2 L22.7,-12.2 Q28.2,-12.2 27.9,-6.699999999999999 L26.5,9.3 Q26.2,14.8 20.7,14.8 L-20.7,14.8 Q-26.2,14.8 -26.5,9.3 L-27.9,-6.699999999999999 Q-28.2,-12.2 -22.7,-12.2 Z" fill="#294d9c"/><circle cx="-17.34" cy="-5" r="2.5" fill="#0f1a40"/><circle cx="-16.74" cy="-4.2" r="0.8" fill="#a09678"/><circle cx="-8.67" cy="-5" r="2.5" fill="#0f1a40"/><circle cx="-8.07" cy="-4.2" r="0.8" fill="#a09678"/><circle cx="0.0" cy="-5" r="2.5" fill="#0f1a40"/><circle cx="0.6" cy="-4.2" r="0.8" fill="#a09678"/><circle cx="8.669999999999998" cy="-5" r="2.5" fill="#0f1a40"/><circle cx="9.269999999999998" cy="-4.2" r="0.8" fill="#a09678"/><circle cx="17.34" cy="-5" r="2.5" fill="#0f1a40"/><circle cx="17.94" cy="-4.2" r="0.8" fill="#a09678"/><circle cx="-13.004999999999999" cy="5.2" r="2.5" fill="#0f1a40"/><circle cx="-12.405" cy="6.0" r="0.8" fill="#a09678"/><circle cx="-4.334999999999999" cy="5.2" r="2.5" fill="#0f1a40"/><circle cx="-3.734999999999999" cy="6.0" r="0.8" fill="#a09678"/><circle cx="4.335000000000001" cy="5.2" r="2.5" fill="#0f1a40"/><circle cx="4.9350000000000005" cy="6.0" r="0.8" fill="#a09678"/><circle cx="13.004999999999999" cy="5.2" r="2.5" fill="#0f1a40"/><circle cx="13.604999999999999" cy="6.0" r="0.8" fill="#a09678"/></g><circle cx="215.5" cy="638.1999999999999" r="7.9" fill="#d6dce7"/><circle cx="215.5" cy="638.1999999999999" r="6.4" fill="url(#gThumb)" stroke="#1a1a1a" stroke-width="1.5"/><path d="M212.5,636.9999999999999 L214.9,635.3 L216.1,637.1999999999999 L218.5,636.4999999999999 L217.5,638.9999999999999 L215.7,638.6999999999999 L215.1,640.5999999999999 L213.5,638.9999999999999 Z" fill="#151515"/><circle cx="296.5" cy="638.1999999999999" r="7.9" fill="#d6dce7"/><circle cx="296.5" cy="638.1999999999999" r="6.4" fill="url(#gThumb)" stroke="#1a1a1a" stroke-width="1.5"/><path d="M293.5,636.9999999999999 L295.9,635.3 L297.1,637.1999999999999 L299.5,636.4999999999999 L298.5,638.9999999999999 L296.7,638.6999999999999 L296.1,640.5999999999999 L294.5,638.9999999999999 Z" fill="#151515"/>
<text x="372" y="611.4" text-anchor="middle" font-family='"Liberation Sans", sans-serif' font-weight="bold" font-size="8.6" fill="#f4f6fa" stroke="#f4f6fa" stroke-width="0.3" textLength="26.6" lengthAdjust="spacingAndGlyphs">COM3</text>
<g transform="translate(372,636.4)"><path d="M-27,-17.8 L27,-17.8 Q35,-17.8 34.7,-9.8 L32.8,10.2 Q32.5,18.2 24.5,18.2 L-24.5,18.2 Q-32.5,18.2 -32.8,10.2 L-34.7,-9.8 Q-35,-17.8 -27,-17.8 Z" fill="#cfd6e1"/><path d="M-26.299999999999997,-16.8 L26.299999999999997,-16.8 Q33.8,-16.8 33.5,-9.3 L31.5,9.7 Q31.2,17.2 23.7,17.2 L-23.7,17.2 Q-31.2,17.2 -31.5,9.7 L-33.5,-9.3 Q-33.8,-16.8 -26.299999999999997,-16.8 Z" fill="#18191c"/><path d="M-24.1,-14.2 L24.1,-14.2 Q30.6,-14.2 30.3,-7.699999999999999 L28.7,9.3 Q28.4,15.8 21.9,15.8 L-21.9,15.8 Q-28.4,15.8 -28.7,9.3 L-30.3,-7.699999999999999 Q-30.6,-14.2 -24.1,-14.2 Z" fill="#c9ced7"/><path d="M-22.7,-12.2 L22.7,-12.2 Q28.2,-12.2 27.9,-6.699999999999999 L26.5,9.3 Q26.2,14.8 20.7,14.8 L-20.7,14.8 Q-26.2,14.8 -26.5,9.3 L-27.9,-6.699999999999999 Q-28.2,-12.2 -22.7,-12.2 Z" fill="#294d9c"/><circle cx="-17.34" cy="-5" r="2.5" fill="#0f1a40"/><circle cx="-16.74" cy="-4.2" r="0.8" fill="#a09678"/><circle cx="-8.67" cy="-5" r="2.5" fill="#0f1a40"/><circle cx="-8.07" cy="-4.2" r="0.8" fill="#a09678"/><circle cx="0.0" cy="-5" r="2.5" fill="#0f1a40"/><circle cx="0.6" cy="-4.2" r="0.8" fill="#a09678"/><circle cx="8.669999999999998" cy="-5" r="2.5" fill="#0f1a40"/><circle cx="9.269999999999998" cy="-4.2" r="0.8" fill="#a09678"/><circle cx="17.34" cy="-5" r="2.5" fill="#0f1a40"/><circle cx="17.94" cy="-4.2" r="0.8" fill="#a09678"/><circle cx="-13.004999999999999" cy="5.2" r="2.5" fill="#0f1a40"/><circle cx="-12.405" cy="6.0" r="0.8" fill="#a09678"/><circle cx="-4.334999999999999" cy="5.2" r="2.5" fill="#0f1a40"/><circle cx="-3.734999999999999" cy="6.0" r="0.8" fill="#a09678"/><circle cx="4.335000000000001" cy="5.2" r="2.5" fill="#0f1a40"/><circle cx="4.9350000000000005" cy="6.0" r="0.8" fill="#a09678"/><circle cx="13.004999999999999" cy="5.2" r="2.5" fill="#0f1a40"/><circle cx="13.604999999999999" cy="6.0" r="0.8" fill="#a09678"/></g><circle cx="331.5" cy="638.1999999999999" r="7.9" fill="#d6dce7"/><circle cx="331.5" cy="638.1999999999999" r="6.4" fill="url(#gThumb)" stroke="#1a1a1a" stroke-width="1.5"/><path d="M328.5,636.9999999999999 L330.9,635.3 L332.1,637.1999999999999 L334.5,636.4999999999999 L333.5,638.9999999999999 L331.7,638.6999999999999 L331.1,640.5999999999999 L329.5,638.9999999999999 Z" fill="#151515"/><circle cx="412.5" cy="638.1999999999999" r="7.9" fill="#d6dce7"/><circle cx="412.5" cy="638.1999999999999" r="6.4" fill="url(#gThumb)" stroke="#1a1a1a" stroke-width="1.5"/><path d="M409.5,636.9999999999999 L411.9,635.3 L413.1,637.1999999999999 L415.5,636.4999999999999 L414.5,638.9999999999999 L412.7,638.6999999999999 L412.1,640.5999999999999 L410.5,638.9999999999999 Z" fill="#151515"/>
<text x="490.2" y="611.4" text-anchor="middle" font-family='"Liberation Sans", sans-serif' font-weight="bold" font-size="8.6" fill="#f4f6fa" stroke="#f4f6fa" stroke-width="0.3" textLength="26.6" lengthAdjust="spacingAndGlyphs">COM2</text>
<g transform="translate(490.2,636.4)"><path d="M-27,-17.8 L27,-17.8 Q35,-17.8 34.7,-9.8 L32.8,10.2 Q32.5,18.2 24.5,18.2 L-24.5,18.2 Q-32.5,18.2 -32.8,10.2 L-34.7,-9.8 Q-35,-17.8 -27,-17.8 Z" fill="#cfd6e1"/><path d="M-26.299999999999997,-16.8 L26.299999999999997,-16.8 Q33.8,-16.8 33.5,-9.3 L31.5,9.7 Q31.2,17.2 23.7,17.2 L-23.7,17.2 Q-31.2,17.2 -31.5,9.7 L-33.5,-9.3 Q-33.8,-16.8 -26.299999999999997,-16.8 Z" fill="#18191c"/><path d="M-24.1,-14.2 L24.1,-14.2 Q30.6,-14.2 30.3,-7.699999999999999 L28.7,9.3 Q28.4,15.8 21.9,15.8 L-21.9,15.8 Q-28.4,15.8 -28.7,9.3 L-30.3,-7.699999999999999 Q-30.6,-14.2 -24.1,-14.2 Z" fill="#c9ced7"/><path d="M-22.7,-12.2 L22.7,-12.2 Q28.2,-12.2 27.9,-6.699999999999999 L26.5,9.3 Q26.2,14.8 20.7,14.8 L-20.7,14.8 Q-26.2,14.8 -26.5,9.3 L-27.9,-6.699999999999999 Q-28.2,-12.2 -22.7,-12.2 Z" fill="#294d9c"/><circle cx="-17.34" cy="-5" r="2.5" fill="#0f1a40"/><circle cx="-16.74" cy="-4.2" r="0.8" fill="#a09678"/><circle cx="-8.67" cy="-5" r="2.5" fill="#0f1a40"/><circle cx="-8.07" cy="-4.2" r="0.8" fill="#a09678"/><circle cx="0.0" cy="-5" r="2.5" fill="#0f1a40"/><circle cx="0.6" cy="-4.2" r="0.8" fill="#a09678"/><circle cx="8.669999999999998" cy="-5" r="2.5" fill="#0f1a40"/><circle cx="9.269999999999998" cy="-4.2" r="0.8" fill="#a09678"/><circle cx="17.34" cy="-5" r="2.5" fill="#0f1a40"/><circle cx="17.94" cy="-4.2" r="0.8" fill="#a09678"/><circle cx="-13.004999999999999" cy="5.2" r="2.5" fill="#0f1a40"/><circle cx="-12.405" cy="6.0" r="0.8" fill="#a09678"/><circle cx="-4.334999999999999" cy="5.2" r="2.5" fill="#0f1a40"/><circle cx="-3.734999999999999" cy="6.0" r="0.8" fill="#a09678"/><circle cx="4.335000000000001" cy="5.2" r="2.5" fill="#0f1a40"/><circle cx="4.9350000000000005" cy="6.0" r="0.8" fill="#a09678"/><circle cx="13.004999999999999" cy="5.2" r="2.5" fill="#0f1a40"/><circle cx="13.604999999999999" cy="6.0" r="0.8" fill="#a09678"/></g><circle cx="449.7" cy="638.1999999999999" r="7.9" fill="#d6dce7"/><circle cx="449.7" cy="638.1999999999999" r="6.4" fill="url(#gThumb)" stroke="#1a1a1a" stroke-width="1.5"/><path d="M446.7,636.9999999999999 L449.09999999999997,635.3 L450.3,637.1999999999999 L452.7,636.4999999999999 L451.7,638.9999999999999 L449.9,638.6999999999999 L449.3,640.5999999999999 L447.7,638.9999999999999 Z" fill="#151515"/><circle cx="530.7" cy="638.1999999999999" r="7.9" fill="#d6dce7"/><circle cx="530.7" cy="638.1999999999999" r="6.4" fill="url(#gThumb)" stroke="#1a1a1a" stroke-width="1.5"/><path d="M527.7,636.9999999999999 L530.1,635.3 L531.3000000000001,637.1999999999999 L533.7,636.4999999999999 L532.7,638.9999999999999 L530.9000000000001,638.6999999999999 L530.3000000000001,640.5999999999999 L528.7,638.9999999999999 Z" fill="#151515"/>
<text x="608.6" y="611.4" text-anchor="middle" font-family='"Liberation Sans", sans-serif' font-weight="bold" font-size="8.6" fill="#f4f6fa" stroke="#f4f6fa" stroke-width="0.3" textLength="26.6" lengthAdjust="spacingAndGlyphs">COM1</text>
<g transform="translate(608.6,636.4)"><path d="M-27,-17.8 L27,-17.8 Q35,-17.8 34.7,-9.8 L32.8,10.2 Q32.5,18.2 24.5,18.2 L-24.5,18.2 Q-32.5,18.2 -32.8,10.2 L-34.7,-9.8 Q-35,-17.8 -27,-17.8 Z" fill="#cfd6e1"/><path d="M-26.299999999999997,-16.8 L26.299999999999997,-16.8 Q33.8,-16.8 33.5,-9.3 L31.5,9.7 Q31.2,17.2 23.7,17.2 L-23.7,17.2 Q-31.2,17.2 -31.5,9.7 L-33.5,-9.3 Q-33.8,-16.8 -26.299999999999997,-16.8 Z" fill="#18191c"/><path d="M-24.1,-14.2 L24.1,-14.2 Q30.6,-14.2 30.3,-7.699999999999999 L28.7,9.3 Q28.4,15.8 21.9,15.8 L-21.9,15.8 Q-28.4,15.8 -28.7,9.3 L-30.3,-7.699999999999999 Q-30.6,-14.2 -24.1,-14.2 Z" fill="#c9ced7"/><path d="M-22.7,-12.2 L22.7,-12.2 Q28.2,-12.2 27.9,-6.699999999999999 L26.5,9.3 Q26.2,14.8 20.7,14.8 L-20.7,14.8 Q-26.2,14.8 -26.5,9.3 L-27.9,-6.699999999999999 Q-28.2,-12.2 -22.7,-12.2 Z" fill="#294d9c"/><circle cx="-17.34" cy="-5" r="2.5" fill="#0f1a40"/><circle cx="-16.74" cy="-4.2" r="0.8" fill="#a09678"/><circle cx="-8.67" cy="-5" r="2.5" fill="#0f1a40"/><circle cx="-8.07" cy="-4.2" r="0.8" fill="#a09678"/><circle cx="0.0" cy="-5" r="2.5" fill="#0f1a40"/><circle cx="0.6" cy="-4.2" r="0.8" fill="#a09678"/><circle cx="8.669999999999998" cy="-5" r="2.5" fill="#0f1a40"/><circle cx="9.269999999999998" cy="-4.2" r="0.8" fill="#a09678"/><circle cx="17.34" cy="-5" r="2.5" fill="#0f1a40"/><circle cx="17.94" cy="-4.2" r="0.8" fill="#a09678"/><circle cx="-13.004999999999999" cy="5.2" r="2.5" fill="#0f1a40"/><circle cx="-12.405" cy="6.0" r="0.8" fill="#a09678"/><circle cx="-4.334999999999999" cy="5.2" r="2.5" fill="#0f1a40"/><circle cx="-3.734999999999999" cy="6.0" r="0.8" fill="#a09678"/><circle cx="4.335000000000001" cy="5.2" r="2.5" fill="#0f1a40"/><circle cx="4.9350000000000005" cy="6.0" r="0.8" fill="#a09678"/><circle cx="13.004999999999999" cy="5.2" r="2.5" fill="#0f1a40"/><circle cx="13.604999999999999" cy="6.0" r="0.8" fill="#a09678"/></g><circle cx="568.1" cy="638.1999999999999" r="7.9" fill="#d6dce7"/><circle cx="568.1" cy="638.1999999999999" r="6.4" fill="url(#gThumb)" stroke="#1a1a1a" stroke-width="1.5"/><path d="M565.1,636.9999999999999 L567.5,635.3 L568.7,637.1999999999999 L571.1,636.4999999999999 L570.1,638.9999999999999 L568.3000000000001,638.6999999999999 L567.7,640.5999999999999 L566.1,638.9999999999999 Z" fill="#151515"/><circle cx="649.1" cy="638.1999999999999" r="7.9" fill="#d6dce7"/><circle cx="649.1" cy="638.1999999999999" r="6.4" fill="url(#gThumb)" stroke="#1a1a1a" stroke-width="1.5"/><path d="M646.1,636.9999999999999 L648.5,635.3 L649.7,637.1999999999999 L652.1,636.4999999999999 L651.1,638.9999999999999 L649.3000000000001,638.6999999999999 L648.7,640.5999999999999 L647.1,638.9999999999999 Z" fill="#151515"/>
<line x1="135.4" y1="660.4" x2="135.4" y2="696.6" stroke="#4a4a4a" stroke-width="1"/>
<polyline points="254.3,661.9 254.3,696.2 610.6,696.2 610.6,661.4" fill="none" stroke="#4a4a4a" stroke-width="1"/>
<text x="121.10000000000001" y="718" font-family='"Liberation Sans", sans-serif' font-size="20.2" fill="#111" stroke="#111" stroke-width="0.65" textLength="28.200000000000003" lengthAdjust="spacingAndGlyphs">HD</text>
<text x="398.7" y="718" font-family='"Liberation Sans", sans-serif' font-size="20.2" fill="#111" stroke="#111" stroke-width="0.65" textLength="69.3" lengthAdjust="spacingAndGlyphs">4<tspan dx="1.6" dy="2.7" font-size="24.2" stroke-width="0.15">*</tspan><tspan dx="1.4" dy="-2.7">COM</tspan></text>
</svg></body></html>
